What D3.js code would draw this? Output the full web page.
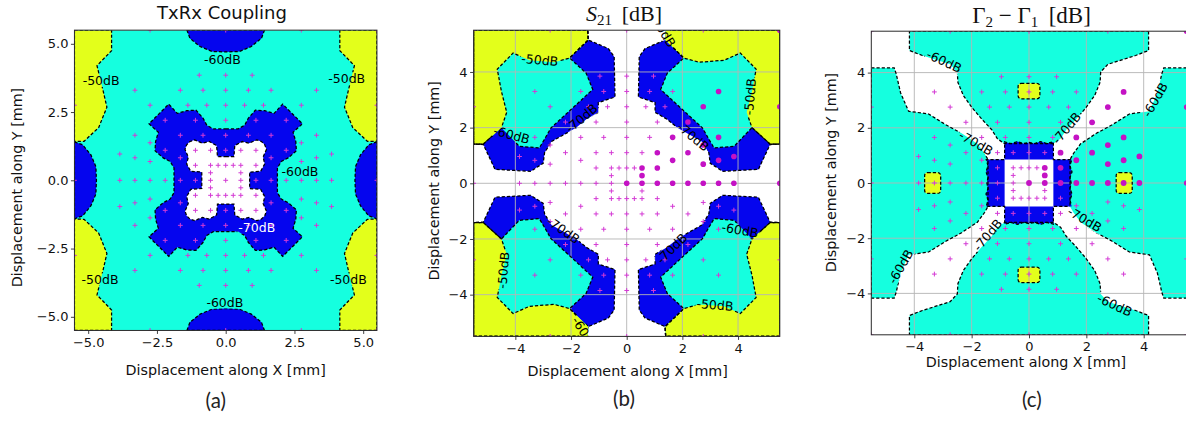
<!DOCTYPE html>
<html>
<head>
<meta charset="utf-8">
<script src="https://cdn.jsdelivr.net/npm/d3@7"></script>
<style>
  html, body { margin: 0; padding: 0; background: #ffffff; }
  svg { display: block; }
</style>
</head>
<body>
<svg id="fig" width="1186" height="421"></svg>
<script>
// ---------------------------------------------------------------------------
// Sample positions (mm) computed in the first octant (0 <= y <= x);
// the other octants are their mirror images.
const octantSamples = [
  [0, 0], [0.55, 0], [1.1, 0], [1.65, 0], [2.2, 0], [2.75, 0], [3.3, 0], [3.85, 0], [5.5, 0],
  [2.75, 0.6875], [3.3, 0.825], [3.85, 0.9625],
  [0.55, 0.275], [1.1, 0.55], [1.65, 0.825], [2.2, 1.1], [2.75, 1.375], [3.3, 1.65], [5.5, 2.75],
  [0.55, 0.55], [1.1, 1.1], [1.65, 1.65], [2.2, 2.2], [2.75, 2.75], [3.3, 3.3], [5.5, 5.5]
];

// Axis ticks
const ticksA = [-5, -2.5, 0, 2.5, 5];
const ticksBC = [-4, -2, 0, 2, 4];

// ---- (a) TxRx coupling contour regions (mm)
const aYellowCorner = [[-5.5, 5.5], [-4.15, 5.5], [-4.15, 4.75], [-4.68, 4.2], [-4.45, 3.25],
  [-4.32, 2.68], [-4.62, 1.93], [-5.15, 1.43], [-5.5, 1.42]];
const aCapTopHalf = [[-1.41, 5.5], [-1.3, 5.2], [-0.93, 4.9], [-0.5, 4.72], [0, 4.7]];
const aCapLeftHalf = [[-5.5, 1.41], [-5.2, 1.3], [-4.9, 0.93], [-4.72, 0.5], [-4.7, 0]];
const aBlueCrossOctant = [[0, 1.88], [0.45, 1.88], [0.69, 2.02], [0.82, 2.27], [1.08, 2.57],
  [1.42, 2.55], [1.76, 2.45], [2.07, 2.79]];
const aWhiteCrossOctant = [[0, 0.87], [0.3, 0.87], [0.33, 1.27], [0.6, 1.42], [0.85, 1.36],
  [1.13, 1.48], [1.3, 1.42]];
const aLabels = [
  { t: "-60dB", x: -0.12, y: 4.43, r: 0 },
  { t: "-50dB", x: -4.53, y: 3.64, r: 0 },
  { t: "-50dB", x: 4.4, y: 3.74, r: 0 },
  { t: "-60dB", x: 2.7, y: 0.32, r: 0 },
  { t: "-70dB", x: 1.13, y: -1.74, r: 0 },
  { t: "-50dB", x: -4.57, y: -3.63, r: 0 },
  { t: "-50dB", x: 4.46, y: -3.63, r: 0 },
  { t: "-60dB", x: -0.03, y: -4.48, r: 0 }
];

// ---- (b) S21 contour regions, upper-right quadrant (mm)
const bLevel70 = [[5.5, 5.5], [1.4, 5.5], [1.38, 5.15], [0.66, 4.84], [0.45, 4.55], [0.42, 3.1],
  [1.02, 2.9], [1.02, 2.55], [1.45, 2.3], [1.82, 2.0], [2.2, 1.78], [2.7, 1.5], [2.95, 1.1],
  [3.0, 0.72], [3.45, 0.43], [4.73, 0.5], [5.15, 1.39], [5.5, 1.41]];
const bLevel60 = [[5.5, 5.5], [1.4, 5.5], [1.38, 5.15], [1.9, 4.65], [2.05, 4.5], [1.46, 3.96],
  [1.22, 3.37], [2.0, 2.65], [2.72, 1.99], [2.96, 1.57], [3.14, 1.27], [3.86, 1.33], [4.5, 2.0],
  [5.15, 1.41], [5.5, 1.41]];
const bLevel50 = [[5.5, 5.5], [1.4, 5.5], [1.38, 5.15], [1.9, 4.65], [2.05, 4.5], [2.6, 4.35],
  [3.5, 4.42], [4.08, 4.68], [4.65, 4.1], [4.5, 3.3], [4.31, 2.55], [4.5, 2.0], [5.15, 1.41],
  [5.5, 1.41]];
const bLabels = [
  { t: "-50dB", x: -3.12, y: 4.43, r: 5 },
  { t: "-60dB", x: -4.13, y: 1.74, r: 15 },
  { t: "-70dB", x: -1.62, y: 2.34, r: -40 },
  { t: "-60dB", x: 1.3, y: 5.5, r: 58 },
  { t: "-50dB", x: 4.43, y: 3.11, r: -85 },
  { t: "-70dB", x: 2.39, y: 1.67, r: 40 },
  { t: "-70dB", x: -2.28, y: -1.68, r: 35 },
  { t: "-50dB", x: -4.43, y: -3.12, r: -85 },
  { t: "-60dB", x: -1.5, y: -5.4, r: 58 },
  { t: "-70dB", x: 1.62, y: -2.34, r: -45 },
  { t: "-60dB", x: 4.07, y: -1.68, r: 10 },
  { t: "-50dB", x: 3.17, y: -4.37, r: 5 }
];

// ---- (c) Gamma2 - Gamma1 contour regions (mm)
const cTopHalf = [[4.17, 5.5], [4.17, 4.8], [3.72, 4.62], [2.75, 4.3], [2.5, 4.02], [2.48, 3.65],
  [2.29, 3.17], [1.98, 2.72], [1.66, 2.33], [1.3, 1.93], [1.1, 1.6], [0.86, 1.43]];
const cSideHalf = [[5.5, 4.17], [4.7, 4.17], [4.63, 3.95], [4.48, 3.27], [4.2, 2.6], [3.5, 2.5],
  [2.9, 2.11], [2.35, 1.8], [1.8, 1.42], [1.55, 1.07], [1.43, 0.85]];
const cBlueQuarter = [[0, 1.47], [0.2, 1.43], [0.4, 1.5], [0.62, 1.43], [0.85, 1.49], [0.85, 0.85],
  [1.49, 0.85], [1.43, 0.62], [1.5, 0.4], [1.43, 0.2], [1.47, 0]];
const cCentreQuarter = [[0, 0.85], [0.85, 0.85], [0.85, 0]];
const cYellowPatches = [
  [-0.38, 3.05, 0.38, 3.61], [-0.38, -3.61, 0.38, -3.05],
  [-3.64, -0.38, -3.08, 0.38], [3.04, -0.38, 3.6, 0.38]
];
const cLabels = [
  { t: "-60dB", x: -2.96, y: 4.41, r: 25 },
  { t: "-70dB", x: -1.85, y: 1.45, r: 30 },
  { t: "-70dB", x: 1.31, y: 1.99, r: -50 },
  { t: "-60dB", x: 4.4, y: 3.02, r: -60 },
  { t: "-60dB", x: -4.48, y: -3.03, r: -60 },
  { t: "-70dB", x: -1.44, y: -1.88, r: -50 },
  { t: "-70dB", x: 1.94, y: -1.32, r: 30 },
  { t: "-60dB", x: 2.99, y: -4.42, r: 25 }
];

// ---------------------------------------------------------------------------
const SANS = "'DejaVu Sans', sans-serif";
const SERIF = "'Liberation Serif', serif";
const CAPTION = "Lato, 'Open Sans', sans-serif";
const COL = {
  yellow: "#e3ff1b", cyan: "#15ffdf", blue: "#0505ee", white: "#ffffff",
  dot: "#c412c4", plus: "#d43ad4", line: "#000000", grid: "#b4b4b4", spine: "#2a2a2a"
};

const svg = d3.select("#fig").style("font-family", SANS);
const defs = svg.append("defs");

// symmetry helpers
const negX = p => p.map(([a, b]) => [-a, b]);
const negY = p => p.map(([a, b]) => [a, -b]);
const negXY = p => p.map(([a, b]) => [-a, -b]);
const rev = p => p.slice().reverse();
const mirrorX = half => half.concat(rev(negX(half)));
const mirrorY = half => half.concat(rev(negY(half)));
const quad4 = q => q.concat(rev(negY(q)), negXY(q), rev(negX(q)));
const ring8 = oct => quad4(oct.concat(rev(oct).map(([a, b]) => [b, a])));
const flips4 = p => [p, negX(p), negY(p), negXY(p)];

function expand8(pts) {
  const m = new Map();
  for (const [px, py] of pts) {
    for (const [a, b] of [[px, py], [py, px]]) {
      for (const sx of [1, -1]) for (const sy of [1, -1]) {
        const q = [sx * a, sy * b];
        const k = q[0].toFixed(3) + "," + q[1].toFixed(3);
        if (!m.has(k)) m.set(k, q);
      }
    }
  }
  return m;
}
const allSamples = expand8(octantSamples);
const octKeys = new Set(octantSamples.map(p => p[0].toFixed(3) + "," + p[1].toFixed(3)));
const mirrorSamples = [...allSamples.entries()].filter(([k]) => !octKeys.has(k)).map(([, v]) => v);
const everySample = [...allSamples.values()];

function makePanel(id, box, ticks, fmt) {
  const x = d3.scaleLinear().domain([-5.5, 5.5]).range([box.left, box.right]);
  const y = d3.scaleLinear().domain([-5.5, 5.5]).range([box.bottom, box.top]);
  defs.append("clipPath").attr("id", "clip-" + id).append("rect")
    .attr("x", box.left).attr("y", box.top)
    .attr("width", box.right - box.left).attr("height", box.bottom - box.top);
  const mask = defs.append("mask").attr("id", "mask-" + id)
    .attr("maskUnits", "userSpaceOnUse").attr("x", 0).attr("y", 0)
    .attr("width", 1186).attr("height", 421);
  mask.append("rect").attr("x", 0).attr("y", 0).attr("width", 1186).attr("height", 421).attr("fill", "white");

  const g = svg.append("g").attr("class", "panel-" + id);
  const plot = g.append("g").attr("clip-path", `url(#clip-${id})`);
  const P = {
    id, box, x, y, g, mask, plot,
    fills: plot.append("g"),
    grid: plot.append("g"),
    lines: plot.append("g").attr("mask", `url(#mask-${id})`),
    marks: plot.append("g"),
    labels: plot.append("g")
  };
  const line = d3.line().x(d => x(d[0])).y(d => y(d[1]));
  P.path = pts => line(pts) + "Z";
  P.ticks = ticks; P.fmt = fmt;
  return P;
}

function region(P, pts, fill) {
  P.fills.append("path").attr("d", P.path(pts)).attr("fill", fill).attr("stroke", "none");
  P.lines.append("path").attr("d", P.path(pts)).attr("fill", "none")
    .attr("stroke", COL.line).attr("stroke-width", 1.25).attr("stroke-dasharray", "3.2,2");
}

function gridLines(P) {
  P.ticks.forEach(t => {
    P.grid.append("line").attr("x1", P.x(t)).attr("x2", P.x(t))
      .attr("y1", P.box.top).attr("y2", P.box.bottom)
      .attr("stroke", COL.grid).attr("stroke-width", 0.9);
    P.grid.append("line").attr("y1", P.y(t)).attr("y2", P.y(t))
      .attr("x1", P.box.left).attr("x2", P.box.right)
      .attr("stroke", COL.grid).attr("stroke-width", 0.9);
  });
}

function plusMarks(P, pts) {
  const s = 2.4;
  const d = pts.map(([a, b]) => {
    const px = P.x(a), py = P.y(b);
    return `M${px - s},${py}h${2 * s}M${px},${py - s}v${2 * s}`;
  }).join("");
  P.marks.append("path").attr("d", d).attr("stroke", COL.plus).attr("stroke-width", 1).attr("fill", "none");
}

function dotMarks(P, pts, r) {
  P.marks.selectAll("circle.dot").data(pts).join("circle").attr("class", "dot")
    .attr("cx", d => P.x(d[0])).attr("cy", d => P.y(d[1])).attr("r", r).attr("fill", COL.dot);
}

function contourLabels(P, list, colorOf) {
  list.forEach(d => {
    const tr = `translate(${P.x(d.x)},${P.y(d.y)}) rotate(${d.r})`;
    const t = P.labels.append("text").attr("transform", tr)
      .attr("text-anchor", "middle").attr("dy", "0.36em").style("font-family", SANS)
      .attr("font-size", "12.5px").attr("fill", colorOf(d)).text(d.t);
    const b = t.node().getBBox();
    P.mask.append("rect").attr("transform", tr)
      .attr("x", b.x - 1).attr("y", b.y + 1.5).attr("width", b.width + 2).attr("height", b.height - 3)
      .attr("fill", "black");
  });
}

function axes(P, xl, yl) {
  const ax = P.g.append("g").attr("transform", `translate(0,${P.box.bottom})`)
    .call(d3.axisBottom(P.x).tickValues(P.ticks).tickFormat(P.fmt).tickSize(3.5).tickPadding(3.5));
  const ay = P.g.append("g").attr("transform", `translate(${P.box.left},0)`)
    .call(d3.axisLeft(P.y).tickValues(P.ticks).tickFormat(P.fmt).tickSize(3.5).tickPadding(2.5));
  [ax, ay].forEach(a => {
    a.attr("font-size", 13);
    a.select(".domain").remove();
    a.selectAll(".tick line").attr("stroke", COL.spine).attr("stroke-width", 0.9);
    a.selectAll(".tick text").attr("fill", "#111").style("font-family", SANS);
  });
  P.g.append("rect").attr("x", P.box.left).attr("y", P.box.top)
    .attr("width", P.box.right - P.box.left).attr("height", P.box.bottom - P.box.top)
    .attr("fill", "none").attr("stroke", COL.spine).attr("stroke-width", 1);
  P.g.append("text").attr("x", xl[0]).attr("y", xl[1]).attr("text-anchor", "middle")
    .style("font-family", SANS).attr("font-size", "14.3px").attr("fill", "#111")
    .text("Displacement along X [mm]");
  P.g.append("text").attr("transform", `translate(${yl[0]},${yl[1]}) rotate(-90)`)
    .attr("text-anchor", "middle").attr("dy", "0.35em").style("font-family", SANS)
    .attr("font-size", "14.3px").attr("fill", "#111").text("Displacement along Y [mm]");
}

function caption(x, y, s) {
  svg.append("text").attr("x", x).attr("y", y).attr("text-anchor", "middle")
    .style("font-family", CAPTION).attr("font-size", "20.5px")
    .attr("fill", "#222").text(s);
}

// ------------------------------------------------------------------ panel (a)
const fmtA = d3.format(".1f");
const PA = makePanel("a", { left: 74.45, right: 376.95, top: 30.15, bottom: 330.45 }, ticksA, fmtA);
PA.fills.append("rect").attr("x", PA.box.left).attr("y", PA.box.top)
  .attr("width", PA.box.right - PA.box.left).attr("height", PA.box.bottom - PA.box.top).attr("fill", COL.cyan);
flips4(aYellowCorner).forEach(p => region(PA, p, COL.yellow));
const capTop = mirrorX(aCapTopHalf), capLeft = mirrorY(aCapLeftHalf);
[capTop, negY(capTop), capLeft, negX(capLeft)].forEach(p => region(PA, p, COL.blue));
region(PA, ring8(aBlueCrossOctant), COL.blue);
region(PA, ring8(aWhiteCrossOctant), COL.white);
plusMarks(PA, everySample);
contourLabels(PA, aLabels, d => d.t === "-70dB" ? "#ffffff" : "#000000");
axes(PA, [225.7, 375], [16.7, 187.5]);
svg.append("text").attr("x", 222).attr("y", 18.5).attr("text-anchor", "middle")
  .style("font-family", SANS).attr("font-size", "18px").attr("fill", "#111").text("TxRx Coupling");
caption(215.8, 408, "(a)");

// ------------------------------------------------------------------ panel (b)
const fmtBC = d3.format("d");
const PB = makePanel("b", { left: 473.6, right: 779.8, top: 30.2, bottom: 336.4 }, ticksBC, fmtBC);
PB.fills.append("rect").attr("x", PB.box.left).attr("y", PB.box.top)
  .attr("width", PB.box.right - PB.box.left).attr("height", PB.box.bottom - PB.box.top).attr("fill", COL.white);
flips4(bLevel70).forEach(p => region(PB, p, COL.blue));
flips4(bLevel60).forEach(p => region(PB, p, COL.cyan));
flips4(bLevel50).forEach(p => region(PB, p, COL.yellow));
gridLines(PB);
plusMarks(PB, mirrorSamples);
dotMarks(PB, octantSamples, 2.8);
contourLabels(PB, bLabels, () => "#000000");
axes(PB, [627.7, 375.7], [434, 180.8]);
const tB = svg.append("text").attr("x", 624).attr("y", 20.5).attr("text-anchor", "middle")
  .style("font-family", SERIF).attr("font-size", "22px").attr("fill", "#111");
tB.append("tspan").attr("font-style", "italic").text("S");
tB.append("tspan").attr("font-size", "15px").attr("dy", 4).text("21");
tB.append("tspan").attr("dy", -4).text("\u2009 [dB]");
caption(624, 405.5, "(b)");

// ------------------------------------------------------------------ panel (c)
const PC = makePanel("c", { left: 871.3, right: 1186.7, top: 31.2, bottom: 334.8 }, ticksBC, fmtBC);
PC.fills.append("rect").attr("x", PC.box.left).attr("y", PC.box.top)
  .attr("width", PC.box.right - PC.box.left).attr("height", PC.box.bottom - PC.box.top).attr("fill", COL.white);
const cTop = mirrorX(cTopHalf), cSide = mirrorY(cSideHalf);
[cTop, negY(cTop), cSide, negX(cSide)].forEach(p => region(PC, p, COL.cyan));
region(PC, quad4(cBlueQuarter), COL.blue);
PC.fills.append("path").attr("d", PC.path(quad4(cCentreQuarter))).attr("fill", COL.white);
cYellowPatches.forEach(([x0, y0, x1, y1]) => {
  const rx = PC.x(x0), ry = PC.y(y1), w = PC.x(x1) - PC.x(x0), h = PC.y(y0) - PC.y(y1);
  PC.fills.append("rect").attr("x", rx).attr("y", ry).attr("width", w).attr("height", h)
    .attr("rx", 3).attr("fill", COL.yellow);
  PC.lines.append("rect").attr("x", rx).attr("y", ry).attr("width", w).attr("height", h)
    .attr("rx", 3).attr("fill", "none").attr("stroke", COL.line)
    .attr("stroke-width", 1.25).attr("stroke-dasharray", "3.2,2");
});
gridLines(PC);
plusMarks(PC, mirrorSamples);
dotMarks(PC, octantSamples, 2.9);
contourLabels(PC, cLabels, () => "#000000");
axes(PC, [1026, 367.3], [830.8, 172.5]);
const tC = svg.append("text").attr("x", 1031.5).attr("y", 23.3).attr("text-anchor", "middle")
  .style("font-family", SERIF).attr("font-size", "23px").attr("fill", "#111");
tC.append("tspan").text("\u0393");
tC.append("tspan").attr("font-size", "15px").attr("dy", 4).text("2");
tC.append("tspan").attr("dy", -4).text(" \u2212 \u0393");
tC.append("tspan").attr("font-size", "15px").attr("dy", 4).text("1");
tC.append("tspan").attr("dy", -4).text("\u2009 [dB]");
caption(1031.8, 407, "(c)");
</script>
</body>
</html>
